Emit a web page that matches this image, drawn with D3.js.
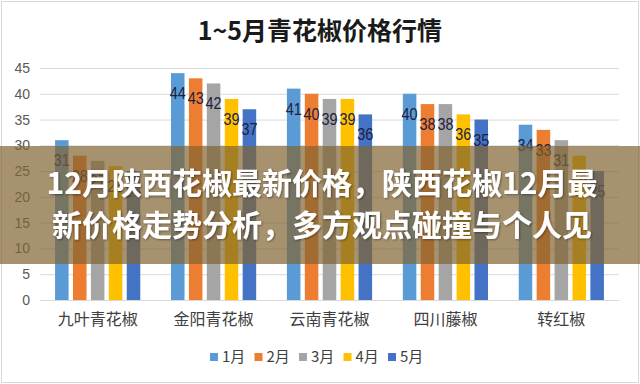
<!DOCTYPE html>
<html>
<head>
<meta charset="utf-8">
<script src="https://cdn.jsdelivr.net/npm/d3@7"></script>
<style>
  html, body { margin: 0; padding: 0; background: #fff; }
  svg { display: block; font-family: "Noto Sans CJK SC", "Noto Sans", sans-serif; }
</style>
</head>
<body>
<svg></svg>
<script>
let categories = ['九叶青花椒', '金阳青花椒', '云南青花椒', '四川藤椒', '转红椒']
let months = ['1月', '2月', '3月', '4月', '5月']
let jan = [31, 44, 41, 40, 34]
let feb = [28, 43, 40, 38, 33]
let mar = [27, 42, 39, 38, 31]
let apr = [26, 39, 39, 36, 28]
let may = [25, 37, 36, 35, 25]
let yTicks = [0, 5, 10, 15, 20, 25, 30, 35, 40, 45]
let colors = ['#5B9BD5', '#ED7D31', '#A5A5A5', '#FFC000', '#4472C4']
let title = '1~5月青花椒价格行情'
let bannerLines = ['12月陕西花椒最新价格，陕西花椒12月最', '新价格走势分析，多方观点碰撞与个人见']

let series = [jan, feb, mar, apr, may]

let width = 640
let height = 384
let plotLeft = 40
let plotRight = 619
let plotTop = 68
let plotBottom = 300

let svg = d3.select('svg')
    .attr('width', width)
    .attr('height', height)

svg.append('rect')
    .attr('x', 1.5).attr('y', 1.5)
    .attr('width', width - 3).attr('height', height - 3)
    .attr('fill', '#fff')
    .attr('stroke', '#d9d9d9')

// title
svg.append('text')
    .attr('x', 320)
    .attr('y', 40)
    .attr('text-anchor', 'middle')
    .attr('font-size', 25)
    .attr('font-weight', 'bold')
    .attr('fill', '#1a1a1a')
    .text(title)

let x0 = d3.scaleBand()
    .domain(categories)
    .range([plotLeft, plotRight])
    .paddingInner(0.265)
    .paddingOuter(0.13)

let x1 = d3.scaleBand()
    .domain(months)
    .range([0, x0.bandwidth()])
    .paddingInner(0.245)

let y = d3.scaleLinear()
    .domain([0, 45])
    .range([plotBottom, plotTop])

// gridlines
let yAxis = d3.axisLeft(y)
    .tickValues(yTicks)
    .tickSize(-(plotRight - plotLeft))
    .tickPadding(10)

let gy = svg.append('g')
    .attr('transform', 'translate(' + plotLeft + ',0)')
    .call(yAxis)
gy.select('.domain').remove()
gy.selectAll('line').attr('stroke', '#d9d9d9')
gy.selectAll('text')
    .attr('fill', '#595959')
    .attr('font-size', 14)
    .attr('font-family', 'Liberation Sans, sans-serif')

// bars
let rows = []
categories.forEach((c, i) => {
    months.forEach((m, j) => {
        rows.push({cat: c, month: m, value: series[j][i], color: colors[j]})
    })
})

svg.append('g')
    .selectAll('rect')
    .data(rows)
    .enter()
    .append('rect')
    .attr('x', (d) => x0(d.cat) + x1(d.month))
    .attr('y', (d) => y(d.value))
    .attr('width', x1.bandwidth())
    .attr('height', (d) => y(0) - y(d.value))
    .attr('fill', (d) => d.color)

// labels sit a little lower than the bar top, slightly squeezed like the original
svg.append('g')
    .selectAll('text')
    .data(rows)
    .enter()
    .append('text')
    .attr('x', (d) => x0(d.cat) + x1(d.month) + x1.bandwidth() / 2)
    .attr('y', (d) => y(d.value) + 26)
    .attr('text-anchor', 'middle')
    .attr('font-size', 16)
    .attr('textLength', 16)
    .attr('lengthAdjust', 'spacingAndGlyphs')
    .attr('font-family', 'Liberation Sans, sans-serif')
    .attr('fill', '#202040')
    .text((d) => d.value)

// category axis
let xAxis = d3.axisBottom(x0).tickSize(0).tickPadding(14)
let gx = svg.append('g')
    .attr('transform', 'translate(0,' + plotBottom + ')')
    .call(xAxis)
gx.select('.domain').attr('stroke', '#d9d9d9')
gx.selectAll('text')
    .attr('fill', '#404040')
    .attr('font-size', 16)
    .attr('font-family', 'Noto Sans CJK SC, sans-serif')

// legend
let legend = svg.append('g')
    .attr('transform', 'translate(210,357)')
let item = legend.selectAll('g')
    .data(months)
    .enter()
    .append('g')
    .attr('transform', (d, i) => 'translate(' + (i * 44.5) + ',0)')
item.append('rect')
    .attr('x', 0).attr('y', -4)
    .attr('width', 8).attr('height', 8)
    .attr('fill', (d, i) => colors[i])
item.append('text')
    .attr('x', 12)
    .attr('y', 5)
    .attr('font-size', 15)
    .attr('fill', '#404040')
    .text((d) => d)

// overlay banner
svg.append('rect')
    .attr('x', 0).attr('y', 146)
    .attr('width', width).attr('height', 118)
    .attr('fill', 'rgba(130,100,50,0.7)')

let defs = svg.append('defs')
let f = defs.append('filter').attr('id', 'sh')
f.append('feDropShadow')
    .attr('dx', 1).attr('dy', 1)
    .attr('stdDeviation', 1)
    .attr('flood-color', '#000')
    .attr('flood-opacity', 0.4)

svg.append('g')
    .selectAll('text')
    .data(bannerLines)
    .enter()
    .append('text')
    .attr('x', 322)
    .attr('y', (d, i) => 194 + i * 42)
    .attr('text-anchor', 'middle')
    .attr('font-size', 30)
    .attr('font-weight', 'bold')
    .attr('fill', '#fff')
    .attr('filter', 'url(#sh)')
    .text((d) => d)
</script>
</body>
</html>
